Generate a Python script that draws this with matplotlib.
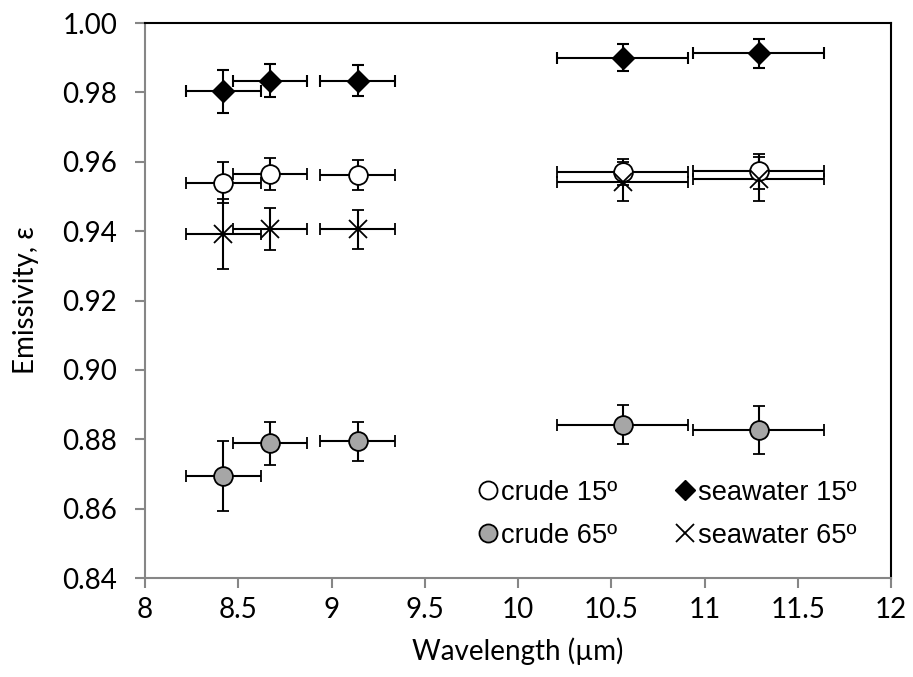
import matplotlib.pyplot as plt
from matplotlib.lines import Line2D

# Wavelength band centres and half-widths (um)
wl = [8.42, 8.67, 9.14, 10.56, 11.29]
wl_err = [0.2, 0.2, 0.2, 0.35, 0.35]

# Emissivity per sample / viewing angle, with uncertainties
crude15 = [0.9540, 0.9564, 0.9561, 0.9570, 0.9573]
crude15_err = [0.0059, 0.0046, 0.0043, 0.0038, 0.0050]
sea15 = [0.9803, 0.9834, 0.9834, 0.9900, 0.9913]
sea15_err = [0.0063, 0.0048, 0.0044, 0.0039, 0.0042]
crude65 = [0.8694, 0.8789, 0.8794, 0.8842, 0.8826]
crude65_err = [0.0100, 0.0062, 0.0056, 0.0056, 0.0069]
sea65 = [0.9392, 0.9406, 0.9406, 0.9543, 0.9551]
sea65_err = [0.0102, 0.0060, 0.0056, 0.0055, 0.0064]

x_ticks = [8, 8.5, 9, 9.5, 10, 10.5, 11, 11.5, 12]
y_ticks = [0.84, 0.86, 0.88, 0.90, 0.92, 0.94, 0.96, 0.98, 1.00]

GRAY_AX = "#868686"
tick_font = "Lato"
legend_font = "Liberation Sans"

fig = plt.figure(figsize=(9.13, 6.77), dpi=100)
ax = fig.add_axes([0.159, 0.146, 0.817, 0.820])

eb_kw = dict(ecolor="black", elinewidth=1.5, capsize=4.5, capthick=1.5,
             linestyle="none", markersize=13.5)

ax.errorbar(wl, crude15, yerr=crude15_err, xerr=wl_err, marker="o",
            mfc="white", mec="black", mew=1.3, **eb_kw)
ax.errorbar(wl, sea15, yerr=sea15_err, xerr=wl_err, marker="D",
            mfc="black", mec="black", **dict(eb_kw, markersize=11))
ax.errorbar(wl, crude65, yerr=crude65_err, xerr=wl_err, marker="o",
            mfc="#a6a6a6", mec="black", mew=1.3, **eb_kw)
ax.errorbar(wl, sea65, yerr=sea65_err, xerr=wl_err, marker="x",
            mfc="none", mec="black", mew=1.3, **eb_kw)

ax.set_xlim(8, 12)
ax.set_ylim(0.84, 1.00)
ax.set_xticks(x_ticks)
ax.set_xticklabels([f"{t:g}" for t in x_ticks])
ax.set_yticks(y_ticks)
ax.set_yticklabels([f"{t:.2f}" for t in y_ticks])

for lab in ax.get_xticklabels() + ax.get_yticklabels():
    lab.set_fontfamily(tick_font)
    lab.set_fontsize(20)

ax.tick_params(direction="out", length=7.2, width=1.5, color=GRAY_AX)
ax.tick_params(axis="x", pad=6.5)
ax.tick_params(axis="y", pad=13)
ax.spines["left"].set_color(GRAY_AX)
ax.spines["bottom"].set_color(GRAY_AX)
for s in ax.spines.values():
    s.set_linewidth(1.5)

ax.set_xlabel("Wavelength (µm)", fontfamily=tick_font, fontsize=20)
ax.set_ylabel("Emissivity, ε", fontfamily=tick_font, fontsize=20)
ax.xaxis.set_label_coords(0.5, -0.106)
ax.yaxis.set_label_coords(-0.143, 0.5)

handles = [
    Line2D([], [], ls="none", marker="o", ms=13, mfc="white", mec="black", mew=1.3),
    Line2D([], [], ls="none", marker="o", ms=13, mfc="#a6a6a6", mec="black", mew=1.3),
    Line2D([], [], ls="none", marker="D", ms=10.5, mfc="black", mec="black"),
    Line2D([], [], ls="none", marker="x", ms=13, mec="black", mew=1.3),
]
labels = ["crude 15º", "crude 65º", "seawater 15º", "seawater 65º"]
ax.legend(handles, labels, ncol=2, frameon=False, loc="upper left",
          bbox_to_anchor=(0.445, 0.177), borderpad=0, borderaxespad=0,
          handlelength=0.8, handletextpad=0.07,
          columnspacing=2.1, labelspacing=0.62,
          prop={"family": legend_font, "size": 19.6})

fig.savefig("out.png", dpi=100)
